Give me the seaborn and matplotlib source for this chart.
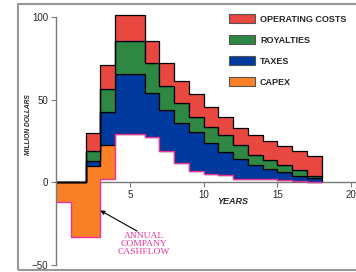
import matplotlib
matplotlib.use("Agg")
import matplotlib.pyplot as plt
from matplotlib.patches import Patch, Rectangle
import numpy as np
import pandas as pd
import seaborn as sns

sns.set_theme(style="white")
plt.rcParams["font.family"] = ["Liberation Sans", "DejaVu Sans"]

# values per project year (million dollars)
YEARS = list(range(18))
CASHFLOW = [-12, -33, -33, 2, 29, 29, 27.5, 19, 11.5, 6.6, 5.3, 4.2, 2.2, 2.1, 1.8, 1.5, 1.0, 0.3]
CAPEX = [12, 33, 42.7, 20.6, 0, 0, 0, 0, 0, 0, 0, 0, 0, 0, 0, 0, 0, 0]
TAXES = [0, 0, 3.5, 20.2, 36.5, 36.5, 26.3, 25, 24.3, 23.9, 18.2, 14.2, 11.7, 8.5, 6.5, 4.6, 2.7, 2.2]
ROYALTIES = [0, 0, 5.8, 13.8, 19.8, 19.8, 18.4, 14.3, 12.2, 9.2, 10.2, 10.2, 8.6, 6.2, 5.2, 4.1, 3.5, 1.6]
OPERATING = [0, 0, 11, 14.2, 15.7, 15.7, 13.1, 13.9, 13.3, 13.8, 11.7, 10.7, 10.2, 11.8, 11.5, 11.8, 12, 11.7]

RED = "#e8483f"
GREEN = "#2e8843"
BLUE = "#003a9e"
ORANGE = "#fa8028"
PINK = "#e8359a"
GREY = "#7a7a7a"

fig = plt.figure(figsize=(3.56, 2.72), dpi=100)
ax = fig.add_axes([56 / 356, 1 - 265 / 272, 300 / 356, 248 / 272])

x = np.append(YEARS, len(YEARS))


def ext(v):
    v = np.asarray(v, dtype=float)
    return np.append(v, v[-1])


base = ext(CASHFLOW)
layers = [(CAPEX, ORANGE, "none"), (TAXES, BLUE, "black"),
          (ROYALTIES, GREEN, "black"), (OPERATING, RED, "black")]
for vals, col, ec in layers:
    top = base + ext(vals)
    ax.fill_between(x, base, top, step="post", facecolor=col,
                    edgecolor=ec, linewidth=0.9, zorder=1, clip_on=False)
    base = top

cf = pd.DataFrame({"year": x, "cash": ext(CASHFLOW)})
sns.lineplot(data=cf, x="year", y="cash", drawstyle="steps-post", color=PINK,
             linewidth=1.0, estimator=None, sort=False, ax=ax, zorder=3,
             clip_on=False)

ax.set_xlim(0, 300 / 14.75)
ax.set_ylim(-50, 100)
ax.set_xticks([5, 10, 15, 20])
ax.set_yticks([-50, 0, 50, 100])
ax.set_xlabel("")
ax.set_ylabel("")
for s in ["top", "right"]:
    ax.spines[s].set_visible(False)
ax.spines["bottom"].set_position(("data", 0))
ax.spines["bottom"].set_zorder(0.5)
for s in ["left", "bottom"]:
    ax.spines[s].set_color(GREY)
    ax.spines[s].set_linewidth(1.0)
ax.tick_params(left=True, bottom=True, direction="out", length=3.5, width=0.8,
               color=GREY, labelsize=7, pad=2)

ax.text(12.0, -11.7, "YEARS", ha="center", va="center", fontsize=6.5,
        fontweight="bold", fontstyle="italic")
fig.text(29 / 356, 1 - 125 / 272, "MILLION DOLLARS", rotation=90, ha="center",
         va="center", fontsize=4.8, fontweight="bold", fontstyle="italic")

ax.annotate("", xy=(3.0, -17), xytext=(5.5, -29.5),
            arrowprops=dict(arrowstyle="-|>", color="black", lw=0.8,
                            mutation_scale=6, shrinkA=0, shrinkB=0))
ax.text(5.97, -37.3, "ANNUAL\nCOMPANY\nCASHFLOW", ha="center", va="center",
        fontsize=6.8, color=PINK, linespacing=1.0,
        family=["Liberation Serif", "DejaVu Serif"])

handles = [Patch(facecolor=c, edgecolor="#555555", linewidth=0.8, label=l)
           for c, l in [(RED, "OPERATING COSTS"), (GREEN, "ROYALTIES"),
                        (BLUE, "TAXES"), (ORANGE, "CAPEX")]]
fig.legend(handles=handles, loc="upper left",
           bbox_to_anchor=(229 / 356, 1 - 14 / 272), frameon=False,
           borderpad=0, borderaxespad=0, handlelength=2.88, handleheight=1.2,
           handletextpad=0.55, labelspacing=1.25,
           prop={"weight": "bold", "size": 6.5})

fig.patches.append(Rectangle((18 / 356, 2 / 272), 1.0, 266 / 272,
                             transform=fig.transFigure, fill=False,
                             edgecolor="#999999", linewidth=1.5))

fig.savefig("out.png", dpi=100)
